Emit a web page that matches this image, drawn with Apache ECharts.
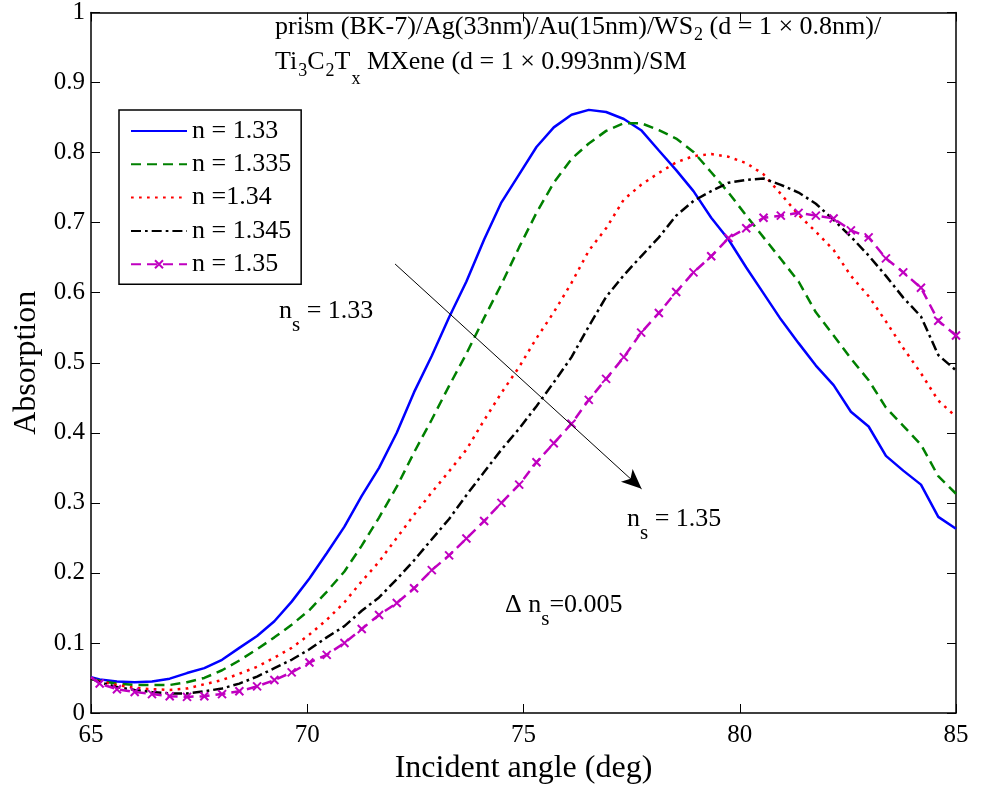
<!DOCTYPE html>
<html><head><meta charset="utf-8">
<script src="https://cdn.jsdelivr.net/npm/echarts@6/dist/echarts.min.js"></script>
<style>html,body{margin:0;padding:0;background:#fff}#c{width:981px;height:790px}</style>
</head><body><div id="c"></div>
<script>
// Incident angle (deg)
const angles = [65.00, 65.20, 65.60, 66.01, 66.41, 66.82, 67.22, 67.62, 68.03, 68.43, 68.84,
  69.24, 69.64, 70.05, 70.45, 70.86, 71.26, 71.66, 72.07, 72.47, 72.88,
  73.28, 73.68, 74.09, 74.49, 74.90, 75.30, 75.70, 76.11, 76.51, 76.91,
  77.32, 77.72, 78.13, 78.53, 78.93, 79.34, 79.74, 80.15, 80.55, 80.95,
  81.36, 81.76, 82.17, 82.57, 82.98, 83.38, 83.78, 84.19, 84.59, 85.00];
const absN1330 = [0.051, 0.048, 0.045, 0.044, 0.045, 0.049, 0.057, 0.064, 0.076, 0.093, 0.110,
  0.131, 0.159, 0.192, 0.228, 0.266, 0.310, 0.350, 0.400, 0.458, 0.510,
  0.565, 0.616, 0.676, 0.729, 0.769, 0.808, 0.836, 0.854, 0.861, 0.858,
  0.848, 0.832, 0.803, 0.775, 0.745, 0.707, 0.676, 0.636, 0.599, 0.562,
  0.528, 0.496, 0.468, 0.430, 0.409, 0.367, 0.346, 0.326, 0.280, 0.263];
const absN1335 = [0.049, 0.046, 0.042, 0.040, 0.040, 0.040, 0.044, 0.050, 0.061, 0.075, 0.091,
  0.108, 0.126, 0.147, 0.173, 0.202, 0.239, 0.279, 0.323, 0.372, 0.419,
  0.467, 0.513, 0.564, 0.612, 0.665, 0.714, 0.757, 0.791, 0.813, 0.831,
  0.842, 0.842, 0.832, 0.820, 0.801, 0.772, 0.743, 0.710, 0.679, 0.648,
  0.616, 0.572, 0.539, 0.506, 0.475, 0.436, 0.410, 0.383, 0.338, 0.313];
const absN1340 = [0.050, 0.045, 0.040, 0.036, 0.034, 0.033, 0.035, 0.041, 0.047, 0.056, 0.066,
  0.079, 0.093, 0.112, 0.133, 0.158, 0.188, 0.216, 0.250, 0.283, 0.315,
  0.345, 0.376, 0.418, 0.457, 0.494, 0.535, 0.572, 0.614, 0.660, 0.692,
  0.733, 0.754, 0.771, 0.786, 0.795, 0.798, 0.794, 0.785, 0.769, 0.741,
  0.711, 0.687, 0.661, 0.624, 0.595, 0.559, 0.521, 0.485, 0.446, 0.423];
const absN1345 = [0.049, 0.044, 0.037, 0.033, 0.030, 0.028, 0.028, 0.031, 0.035, 0.042, 0.052,
  0.064, 0.076, 0.091, 0.108, 0.124, 0.146, 0.165, 0.191, 0.218, 0.248,
  0.277, 0.311, 0.344, 0.376, 0.406, 0.438, 0.472, 0.508, 0.552, 0.594,
  0.625, 0.652, 0.679, 0.710, 0.731, 0.745, 0.757, 0.761, 0.763, 0.754,
  0.743, 0.727, 0.704, 0.680, 0.653, 0.624, 0.593, 0.566, 0.511, 0.489];
const absN1350 = [0.051, 0.042, 0.034, 0.030, 0.027, 0.024, 0.023, 0.024, 0.027, 0.031, 0.038,
  0.047, 0.058, 0.072, 0.083, 0.100, 0.120, 0.140, 0.157, 0.178, 0.204,
  0.225, 0.249, 0.274, 0.300, 0.326, 0.358, 0.385, 0.413, 0.447, 0.477,
  0.508, 0.543, 0.571, 0.601, 0.629, 0.652, 0.678, 0.692, 0.707, 0.710,
  0.714, 0.710, 0.706, 0.689, 0.679, 0.649, 0.629, 0.607, 0.560, 0.539];
const seriesNames = ['n = 1.33', 'n = 1.335', 'n =1.34', 'n = 1.345', 'n = 1.35'];
const xTicks = {min: 65, max: 85, step: 5};
const yTicks = {min: 0, max: 1, step: 0.1};

const FONT = "'Liberation Serif', 'Times New Roman', serif";
const chart = echarts.init(document.getElementById('c'), null, {renderer: 'canvas'});

function pairs(ys, hideFirst) {
  return angles.map((a, i) => (hideFirst && i === 0) ? {value: [a, ys[i]], symbol: 'none'} : [a, ys[i]]);
}
const axisLineStyle = {show: true, onZero: false, lineStyle: {color: '#000', width: 1.5}};
const tickStyle = {show: true, inside: true, length: 9, lineStyle: {color: '#000', width: 1}};
const labelStyle = {color: '#000', fontFamily: FONT, fontSize: 25};

const X_MARK = 'path://M0,0L10,10M0,10L10,0';

const option = {
  animation: false,
  backgroundColor: '#fff',
  grid: {left: 91, right: 25, top: 11, bottom: 72, containLabel: false},
  xAxis: [
    {type: 'value', position: 'bottom', min: xTicks.min, max: xTicks.max, interval: xTicks.step,
     axisLine: axisLineStyle, axisTick: tickStyle, splitLine: {show: false},
     axisLabel: Object.assign({margin: 10}, labelStyle),
     name: 'Incident angle (deg)', nameLocation: 'middle', nameGap: 40,
     nameTextStyle: {color: '#000', fontFamily: FONT, fontSize: 32}},
    {type: 'value', position: 'top', min: xTicks.min, max: xTicks.max, interval: xTicks.step,
     axisLine: axisLineStyle, axisTick: tickStyle, splitLine: {show: false}, axisLabel: {show: false}}
  ],
  yAxis: [
    {type: 'value', position: 'left', min: yTicks.min, max: yTicks.max, interval: yTicks.step,
     axisLine: axisLineStyle, axisTick: tickStyle, splitLine: {show: false},
     axisLabel: Object.assign({margin: 6}, labelStyle),
     name: 'Absorption', nameLocation: 'middle', nameGap: 38, nameRotate: 90,
     nameTextStyle: {color: '#000', fontFamily: FONT, fontSize: 32}},
    {type: 'value', position: 'right', min: yTicks.min, max: yTicks.max, interval: yTicks.step,
     axisLine: axisLineStyle, axisTick: tickStyle, splitLine: {show: false}, axisLabel: {show: false}}
  ],
  legend: {
    orient: 'vertical', left: 119, top: 110,
    padding: [8, 10, 7, 11], itemGap: 7.3, itemWidth: 56, itemHeight: 10,
    backgroundColor: '#fff', borderColor: '#000', borderWidth: 1.5, borderRadius: 0,
    textStyle: {color: '#000', fontFamily: FONT, fontSize: 26, padding: [0, 0, 0, 0]},
    data: seriesNames.map((nm, i) => i < 4 ? {name: nm, itemStyle: {opacity: 0}} : {name: nm})
  },
  series: [
    {name: seriesNames[0], type: 'line', data: pairs(absN1330), symbol: 'none',
     lineStyle: {color: '#0000ff', width: 2.5, type: 'solid'}, itemStyle: {color: '#0000ff'},
     markLine: {silent: true, symbol: ['none', 'arrow'], symbolSize: [13, 20],
       label: {show: false}, lineStyle: {color: '#000', width: 1, type: 'solid'},
       data: [[{coord: [72.03, 0.641]}, {coord: [77.73, 0.320]}]]}},
    {name: seriesNames[1], type: 'line', data: pairs(absN1335), symbol: 'none',
     lineStyle: {color: '#008000', width: 2.5, type: [10, 6]}, itemStyle: {color: '#008000'}},
    {name: seriesNames[2], type: 'line', data: pairs(absN1340), symbol: 'none',
     lineStyle: {color: '#ff0000', width: 2.5, type: [2.7, 5.3]}, itemStyle: {color: '#ff0000'}},
    {name: seriesNames[3], type: 'line', data: pairs(absN1345), symbol: 'none',
     lineStyle: {color: '#000000', width: 2.5, type: [10, 4, 2.7, 4]}, itemStyle: {color: '#000000'}},
    {name: seriesNames[4], type: 'line', data: pairs(absN1350, true), symbol: X_MARK, symbolSize: 8,
     showSymbol: true, showAllSymbol: true,
     lineStyle: {color: '#c000c0', width: 2.5, type: [10, 6]},
     itemStyle: {color: '#c000c0', borderColor: '#c000c0', borderWidth: 2}}
  ],
  graphic: [
    {type: 'text', x: 275, y: 27, silent: true, style: {
      text: '{a|prism (BK-7)/Ag(33nm)/Au(15nm)/WS}{s|2}{a| (d = 1 × 0.8nm)/}',
      verticalAlign: 'middle', align: 'left', fill: '#000', fontFamily: FONT, fontSize: 26,
      rich: {a: {fill: '#000', fontFamily: FONT, fontSize: 26, lineHeight: 30},
             s: {fill: '#000', fontFamily: FONT, fontSize: 18, padding: [16, 0, 0, 1]}}}},
    {type: 'text', x: 275, y: 62, silent: true, style: {
      text: '{a|Ti}{s|3}{a|C}{s|2}{a|T}{x|x}{a| MXene (d = 1 × 0.993nm)/SM}',
      verticalAlign: 'middle', align: 'left', fill: '#000', fontFamily: FONT, fontSize: 26,
      rich: {a: {fill: '#000', fontFamily: FONT, fontSize: 26, lineHeight: 30},
             s: {fill: '#000', fontFamily: FONT, fontSize: 18, padding: [18, 0, 0, 1]},
             x: {fill: '#000', fontFamily: FONT, fontSize: 18, padding: [34, 0, 0, 1]}}}},
    {type: 'text', x: 279, y: 311, silent: true, style: {
      text: '{a|n}{t|s}{a| = 1.33}',
      verticalAlign: 'middle', align: 'left', fill: '#000', fontFamily: FONT, fontSize: 26,
      rich: {a: {fill: '#000', fontFamily: FONT, fontSize: 26, lineHeight: 30},
             t: {fill: '#000', fontFamily: FONT, fontSize: 21, padding: [28, 0, 0, 0]}}}},
    {type: 'text', x: 627, y: 519, silent: true, style: {
      text: '{a|n}{t|s}{a| = 1.35}',
      verticalAlign: 'middle', align: 'left', fill: '#000', fontFamily: FONT, fontSize: 26,
      rich: {a: {fill: '#000', fontFamily: FONT, fontSize: 26, lineHeight: 30},
             t: {fill: '#000', fontFamily: FONT, fontSize: 21, padding: [28, 0, 0, 0]}}}},
    {type: 'text', x: 505, y: 605, silent: true, style: {
      text: '{a|Δ n}{t|s}{a|=0.005}',
      verticalAlign: 'middle', align: 'left', fill: '#000', fontFamily: FONT, fontSize: 26,
      rich: {a: {fill: '#000', fontFamily: FONT, fontSize: 26, lineHeight: 30},
             t: {fill: '#000', fontFamily: FONT, fontSize: 21, padding: [28, 0, 0, 0]}}}}
  ]
};
chart.setOption(option);
</script>
</body></html>
